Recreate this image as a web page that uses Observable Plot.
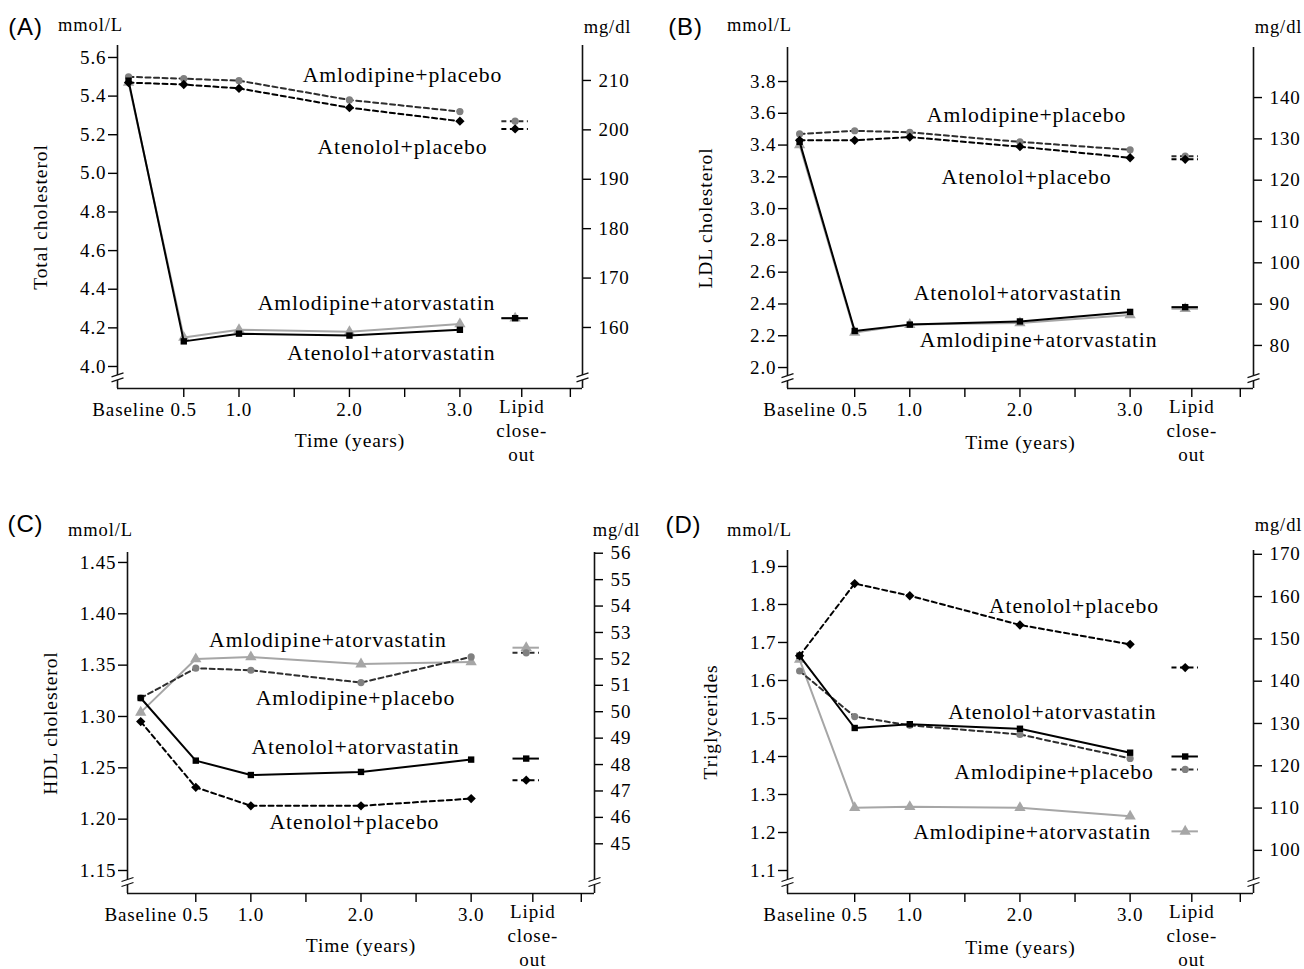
<!DOCTYPE html>
<html><head><meta charset="utf-8">
<script src="https://cdn.jsdelivr.net/npm/d3@7"></script>
<script src="https://cdn.jsdelivr.net/npm/@observablehq/plot@0.6"></script>
<style>
html,body{margin:0;padding:0;background:#fff;}
#wrap{position:relative;width:1304px;height:969px;overflow:hidden;background:#fff;}
.panel{position:absolute;}
</style></head><body><div id="wrap"></div>
<script>
// ---------- shared categories ----------
const times = [0, 0.5, 1, 2, 3];
const closeoutX = 3.5;          // position of the lipid close-out values
const closeoutTickX = 3.56;     // position of the "Lipid close-out" tick
const xTickMarks = [0.5, 1, 1.5, 2, 2.5, 3, 3.56, 4];
const xTickLabelValues = [0, 0.5, 1, 2, 3];
const seriesOrder = ["Amlodipine+atorvastatin", "Amlodipine+placebo", "Atenolol+placebo", "Atenolol+atorvastatin"];

// ---------- (A) Total cholesterol, mmol/L ----------
const totalAmloPlacebo = [5.50, 5.49, 5.48, 5.38, 5.32];
const totalAtenPlacebo = [5.47, 5.46, 5.44, 5.34, 5.27];
const totalAmloAtorva  = [5.47, 4.15, 4.19, 4.18, 4.22];
const totalAtenAtorva  = [5.48, 4.13, 4.17, 4.16, 4.19];
const totalCloseout = {"Amlodipine+placebo": 5.27, "Atenolol+placebo": 5.23, "Amlodipine+atorvastatin": 4.25, "Atenolol+atorvastatin": 4.25};
const totalTicks = [4.0, 4.2, 4.4, 4.6, 4.8, 5.0, 5.2, 5.4, 5.6];
const totalMgTicks = [160, 170, 180, 190, 200, 210];
const totalMgRef = [[160, 4.202], [210, 5.481]];

// ---------- (B) LDL cholesterol ----------
const ldlAmloPlacebo = [3.47, 3.49, 3.48, 3.42, 3.37];
const ldlAtenPlacebo = [3.43, 3.43, 3.45, 3.39, 3.32];
const ldlAmloAtorva  = [3.40, 2.22, 2.27, 2.28, 2.33];
const ldlAtenAtorva  = [3.42, 2.23, 2.27, 2.29, 2.35];
const ldlCloseout = {"Amlodipine+placebo": 3.33, "Atenolol+placebo": 3.31, "Amlodipine+atorvastatin": 2.37, "Atenolol+atorvastatin": 2.38};
const ldlTicks = [2.0, 2.2, 2.4, 2.6, 2.8, 3.0, 3.2, 3.4, 3.6, 3.8];
const ldlMgTicks = [80, 90, 100, 110, 120, 130, 140];
const ldlMgRef = [[80, 2.139], [140, 3.699]];

// ---------- (C) HDL cholesterol ----------
const hdlAmloPlacebo = [1.318, 1.347, 1.345, 1.333, 1.358];
const hdlAtenPlacebo = [1.295, 1.231, 1.213, 1.213, 1.220];
const hdlAmloAtorva  = [1.304, 1.356, 1.358, 1.351, 1.353];
const hdlAtenAtorva  = [1.318, 1.257, 1.243, 1.246, 1.258];
const hdlCloseout = {"Amlodipine+placebo": 1.362, "Atenolol+placebo": 1.238, "Amlodipine+atorvastatin": 1.367, "Atenolol+atorvastatin": 1.259};
const hdlTicks = [1.15, 1.20, 1.25, 1.30, 1.35, 1.40, 1.45];
const hdlMgTicks = [45, 46, 47, 48, 49, 50, 51, 52, 53, 54, 55, 56];
const hdlMgRef = [[45, 1.176], [56, 1.459]];

// ---------- (D) Triglycerides ----------
const tgAmloPlacebo = [1.625, 1.505, 1.482, 1.458, 1.395];
const tgAtenPlacebo = [1.665, 1.855, 1.823, 1.746, 1.695];
const tgAmloAtorva  = [1.655, 1.265, 1.268, 1.265, 1.243];
const tgAtenAtorva  = [1.665, 1.475, 1.485, 1.473, 1.410];
const tgCloseout = {"Amlodipine+placebo": 1.366, "Atenolol+placebo": 1.634, "Amlodipine+atorvastatin": 1.203, "Atenolol+atorvastatin": 1.400};
const tgTicks = [1.1, 1.2, 1.3, 1.4, 1.5, 1.6, 1.7, 1.8, 1.9];
const tgMgTicks = [100, 110, 120, 130, 140, 150, 160, 170];
const tgMgRef = [[100, 1.153], [170, 1.932]];

// ---------- series styles ----------
const styles = {
  "Amlodipine+placebo":      {stroke: "#2e2e2e", dash: "5,3.5", symbol: "circle",   fill: "#808080", r: 3.6},
  "Atenolol+placebo":        {stroke: "#000",    dash: "5,3.5", symbol: "diamond2", fill: "#000",    r: 4.2},
  "Amlodipine+atorvastatin": {stroke: "#a6a6a6", dash: null,    symbol: "triangle", fill: "#a6a6a6", r: 4.2},
  "Atenolol+atorvastatin":   {stroke: "#000",    dash: null,    symbol: "square",   fill: "#000",    r: 3.6}
};

// ---------- panel layout ----------
const panels = [
  {key: "(A)", left: 0, top: 0, width: 652, height: 484, margin: [45, 70, 96, 117],
   xDomain: [-0.10, 4.11], yDomain: [3.886, 5.662], yTicks: totalTicks, yFormat: ".1f",
   mgTicks: totalMgTicks, mgRef: totalMgRef, ylabel: "Total cholesterol",
   series: {"Amlodipine+placebo": totalAmloPlacebo, "Atenolol+placebo": totalAtenPlacebo, "Amlodipine+atorvastatin": totalAmloAtorva, "Atenolol+atorvastatin": totalAtenAtorva},
   closeout: totalCloseout,
   labels: [
     {text: "Amlodipine+placebo", x: 2.48, y: 5.507},
     {text: "Atenolol+placebo", x: 2.48, y: 5.134},
     {text: "Amlodipine+atorvastatin", x: 2.245, y: 4.326},
     {text: "Atenolol+atorvastatin", x: 2.38, y: 4.067}],
   pos: {letter: [25, 27], mmol: [90, 25], mg: [607, 27], ylabelX: 40, timeDy: 52}},
  {key: "(B)", left: 652, top: 0, width: 652, height: 484, margin: [47, 51, 96, 135],
   xDomain: [-0.11, 4.12], yDomain: [1.868, 4.014], yTicks: ldlTicks, yFormat: ".1f",
   mgTicks: ldlMgTicks, mgRef: ldlMgRef, ylabel: "LDL cholesterol",
   series: {"Amlodipine+placebo": ldlAmloPlacebo, "Atenolol+placebo": ldlAtenPlacebo, "Amlodipine+atorvastatin": ldlAmloAtorva, "Atenolol+atorvastatin": ldlAtenAtorva},
   closeout: ldlCloseout,
   labels: [
     {text: "Amlodipine+placebo", x: 2.06, y: 3.586},
     {text: "Atenolol+placebo", x: 2.06, y: 3.196},
     {text: "Atenolol+atorvastatin", x: 1.98, y: 2.466},
     {text: "Amlodipine+atorvastatin", x: 2.17, y: 2.170}],
   pos: {letter: [33, 27], mmol: [107, 25], mg: [626, 27], ylabelX: 53, timeDy: 54}},
  {key: "(C)", left: 0, top: 484, width: 652, height: 485, margin: [68, 58, 76, 127],
   xDomain: [-0.12, 4.12], yDomain: [1.1276, 1.4597], yTicks: hdlTicks, yFormat: ".2f",
   mgTicks: hdlMgTicks, mgRef: hdlMgRef, ylabel: "HDL cholesterol",
   series: {"Amlodipine+placebo": hdlAmloPlacebo, "Atenolol+placebo": hdlAtenPlacebo, "Amlodipine+atorvastatin": hdlAmloAtorva, "Atenolol+atorvastatin": hdlAtenAtorva},
   closeout: hdlCloseout,
   labels: [
     {text: "Amlodipine+atorvastatin", x: 1.70, y: 1.374},
     {text: "Amlodipine+placebo", x: 1.95, y: 1.318},
     {text: "Atenolol+atorvastatin", x: 1.95, y: 1.270},
     {text: "Atenolol+placebo", x: 1.94, y: 1.197}],
   pos: {letter: [25, 40], mmol: [100, 46], mg: [616, 46], ylabelX: 50, timeDy: 52}},
  {key: "(D)", left: 652, top: 484, width: 652, height: 485, margin: [66, 51, 76, 135],
   xDomain: [-0.11, 4.12], yDomain: [1.0395, 1.942], yTicks: tgTicks, yFormat: ".1f",
   mgTicks: tgMgTicks, mgRef: tgMgRef, ylabel: "Triglycerides",
   series: {"Amlodipine+placebo": tgAmloPlacebo, "Atenolol+placebo": tgAtenPlacebo, "Amlodipine+atorvastatin": tgAmloAtorva, "Atenolol+atorvastatin": tgAtenAtorva},
   closeout: tgCloseout,
   labels: [
     {text: "Atenolol+placebo", x: 2.49, y: 1.797},
     {text: "Atenolol+atorvastatin", x: 2.295, y: 1.516},
     {text: "Amlodipine+placebo", x: 2.31, y: 1.358},
     {text: "Amlodipine+atorvastatin", x: 2.11, y: 1.200}],
   pos: {letter: [31, 41], mmol: [107, 46], mg: [626, 41], ylabelX: 58, timeDy: 54}}
];

// axis-break glyphs
const breakGap = {draw(ctx) { ctx.moveTo(-6, -0.5); ctx.lineTo(6, -4.5); ctx.lineTo(6, 0.5); ctx.lineTo(-6, 4.5); ctx.closePath(); }};
const breakLines = {draw(ctx) { ctx.moveTo(-6, -0.5); ctx.lineTo(6, -4.5); ctx.moveTo(-6, 4.5); ctx.lineTo(6, 0.5); }};

const serif = "'Liberation Serif', 'Times New Roman', serif";
const sans = "'Liberation Sans', Arial, sans-serif";

function makePanel(p) {
  const [mt, mr, mb, ml] = p.margin;
  const [x0, x1] = p.xDomain;
  const [y0] = p.yDomain;
  const toMmol = d3.scaleLinear().domain(p.mgRef.map(d => d[0])).range(p.mgRef.map(d => d[1]));
  const breakY = y0 + (p.yTicks[0] - y0) * 0.5;
  const fmt = d3.format(p.yFormat);
  const marks = [];

  // frame lines
  marks.push(Plot.ruleY([y0], {stroke: "#111", strokeWidth: 1.6}));
  marks.push(Plot.ruleX([x0, x1], {stroke: "#111", strokeWidth: 1.6}));
  marks.push(Plot.dot([x0, x1], {x: d => d, y: () => breakY, symbol: breakGap, fill: "white", stroke: "none", r: 5}));
  marks.push(Plot.dot([x0, x1], {x: d => d, y: () => breakY, symbol: breakLines, fill: "none", stroke: "#111", strokeWidth: 1.3, r: 5}));

  // axes
  marks.push(Plot.axisY({ticks: p.yTicks, tickFormat: d => fmt(d), tickSize: 9, tickPadding: 2, strokeWidth: 1.4, fontSize: 19, label: null}));
  marks.push(Plot.axisY({anchor: "right", ticks: p.mgTicks.map(m => toMmol(m)), tickFormat: d => String(Math.round(toMmol.invert(d))), tickSize: 8, tickPadding: 8, strokeWidth: 1.4, fontSize: 19, label: null}));
  marks.push(Plot.axisX({ticks: xTickMarks, tickFormat: () => "", tickSize: 9, strokeWidth: 1.4, label: null}));
  marks.push(Plot.axisX({ticks: xTickLabelValues, tickFormat: d => d === 0 ? "Baseline" : d3.format(".1f")(d), tickSize: 0, tickPadding: 14, fontSize: 19, label: null}));
  marks.push(Plot.text([closeoutTickX], {x: d => d, text: () => "Lipid\nclose-\nout", frameAnchor: "bottom", lineAnchor: "top", dy: 8, lineHeight: 1.25, fontSize: 19}));
  marks.push(Plot.text(["Time (years)"], {text: d => d, frameAnchor: "bottom", dy: p.pos.timeDy, lineAnchor: "middle", fontSize: 19.5}));
  marks.push(Plot.text([p.ylabel], {text: d => d, frameAnchor: "left", rotate: -90, dx: p.pos.ylabelX - ml, lineAnchor: "middle", textAnchor: "middle", fontSize: 19.5}));

  // corner labels
  marks.push(Plot.text([p.key], {text: d => d, frameAnchor: "top-left", dx: p.pos.letter[0] - ml, dy: p.pos.letter[1] - mt, lineAnchor: "middle", textAnchor: "middle", fontFamily: sans, fontSize: 24}));
  marks.push(Plot.text(["mmol/L"], {text: d => d, frameAnchor: "top-left", dx: p.pos.mmol[0] - ml, dy: p.pos.mmol[1] - mt, lineAnchor: "middle", textAnchor: "middle", fontSize: 18.5}));
  marks.push(Plot.text(["mg/dl"], {text: d => d, frameAnchor: "top-left", dx: p.pos.mg[0] - ml, dy: p.pos.mg[1] - mt, lineAnchor: "middle", textAnchor: "middle", fontSize: 18.5}));

  // series
  for (const name of seriesOrder) {
    const s = styles[name];
    const rows = times.map((t, i) => ({t, v: p.series[name][i]}));
    const co = [{t: closeoutX, v: p.closeout[name]}];
    marks.push(Plot.line(rows, {x: "t", y: "v", stroke: s.stroke, strokeWidth: 2, strokeDasharray: s.dash || undefined}));
    marks.push(Plot.ruleY(co, {y: "v", x1: d => d.t - 0.12, x2: d => d.t + 0.12, stroke: s.stroke, strokeWidth: 2, strokeDasharray: s.dash || undefined}));
    marks.push(Plot.dot(rows.concat(co), {x: "t", y: "v", symbol: s.symbol, fill: s.fill, stroke: "none", r: s.r}));
  }

  // series labels
  marks.push(Plot.text(p.labels, {x: "x", y: "y", text: "text", fontSize: 21.7, textAnchor: "middle", lineAnchor: "middle"}));

  const svg = Plot.plot({
    width: p.width, height: p.height,
    marginTop: mt, marginRight: mr, marginBottom: mb, marginLeft: ml,
    x: {domain: p.xDomain},
    y: {domain: p.yDomain},
    style: {fontFamily: serif, fontSize: "19px", color: "black", background: "white", overflow: "visible", letterSpacing: "0.9px"},
    marks
  });
  const div = document.createElement("div");
  div.className = "panel";
  div.style.left = p.left + "px";
  div.style.top = p.top + "px";
  div.appendChild(svg);
  document.getElementById("wrap").appendChild(div);
}

panels.forEach(makePanel);
</script>
</body></html>
